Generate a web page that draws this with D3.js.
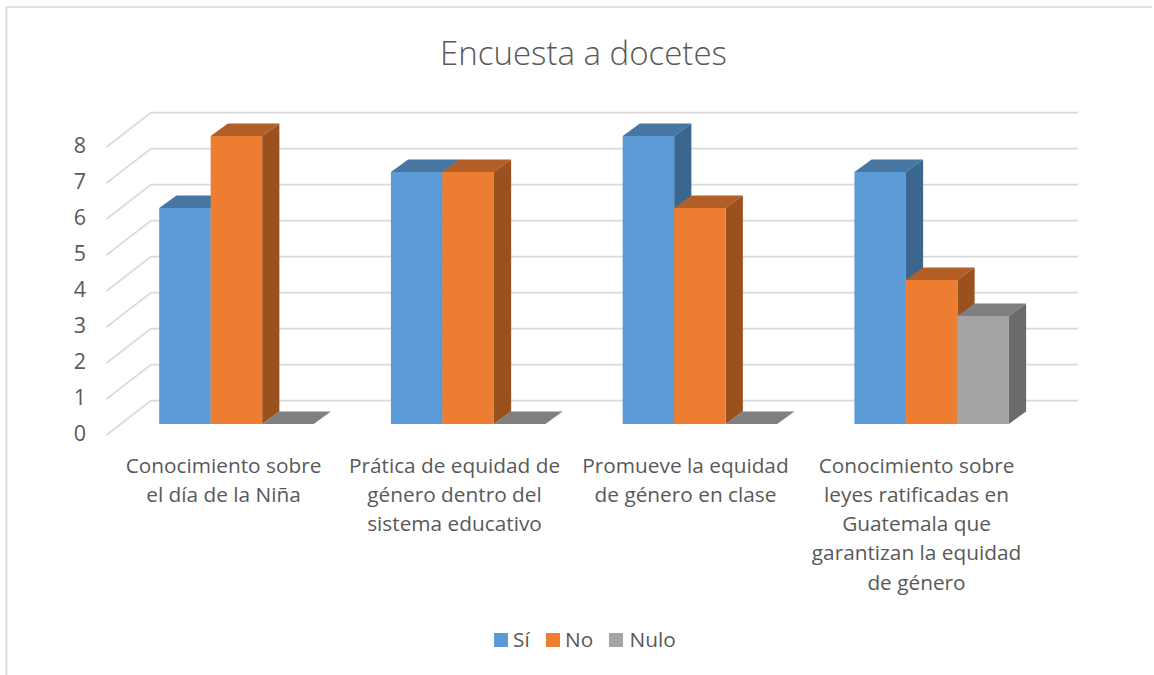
<!DOCTYPE html>
<html><head><meta charset="utf-8">
<script src="https://cdn.jsdelivr.net/npm/d3@7/dist/d3.min.js"></script>
<style>html,body{margin:0;padding:0;background:#fff}svg{display:block}text{font-family:"Open Sans",sans-serif;fill:#595959}</style>
</head><body><svg id="c" width="1154" height="675"></svg>
<script>
const titleText = "Encuesta a docetes";
const categories = [
  ["Conocimiento sobre","el día de la Niña"],
  ["Prática de equidad de","género dentro del","sistema educativo"],
  ["Promueve la equidad","de género en clase"],
  ["Conocimiento sobre","leyes ratificadas en","Guatemala que","garantizan la equidad","de género"]
];
const seriesNames = ["Sí","No","Nulo"];
const si = [6,7,8,7];
const no = [8,7,6,4];
const nulo = [0,0,0,3];
const seriesValues = [si,no,nulo];
const tickValues = [0,1,2,3,4,5,6,7,8];
const faceColors = ["#5b9bd5","#ed7d31","#a5a5a5"];
const topColors = ["#4677a3","#b25e24","#7f7f7f"];
const sideColors = ["#3b668e","#9a511d","#6b6b6b"];

const svg = d3.select("#c");
// frame
svg.append("path").attr("d","M6.5,675V7H1152").attr("fill","none").attr("stroke","#d9d9d9").attr("stroke-width",1.7);

const y = d3.scaleLinear().domain([0,8]).range([424,136]);
const x0 = d3.scaleBand().domain(d3.range(categories.length)).range([107,1034]);
const xLabel = d3.scaleBand().domain(d3.range(categories.length)).range([108,1032]);
const barW = 51.5, dx = 17.2, dy = 12.6;
const gridFrontX = 106.5, gridBackX = 151, gridEndX = 1078, gridFrontDrop = 11, gridBackRise = 23.3;

// gridlines
const grid = svg.append("g").attr("fill","none").attr("stroke","#dadada").attr("stroke-width",1.7);
tickValues.forEach(v=>{
  const yy=y(v);
  grid.append("path").attr("d",`M${gridFrontX},${yy+gridFrontDrop}L${gridBackX},${yy-gridBackRise}H${gridEndX}`);
});
// y axis labels
svg.append("g").selectAll("text").data(tickValues).join("text")
  .attr("x",80).attr("y",d=>y(d)+17.3).attr("text-anchor","middle").attr("font-size",21.5).text(d=>d);

// bars
categories.forEach((c,i)=>{
  const g=svg.append("g");
  seriesValues.forEach((vals,s)=>{
    const v=vals[i], x=x0(i)+x0.bandwidth()/2-63.7+s*barW, t=y(v), b=y(0);
    g.append("path").attr("fill",topColors[s]).attr("d",`M${x},${t}L${x+dx},${t-dy}H${x+barW+dx}L${x+barW},${t}Z`);
    if(v>0){
      g.append("path").attr("fill",sideColors[s]).attr("d",`M${x+barW},${t}L${x+barW+dx},${t-dy}V${b-dy}L${x+barW},${b}Z`);
      g.append("rect").attr("x",x).attr("y",t).attr("width",barW).attr("height",b-t).attr("fill",faceColors[s]);
    }
  });
  // category labels
  const cx=xLabel(i)+xLabel.bandwidth()/2;
  const tx=svg.append("text").attr("text-anchor","middle").attr("font-size",20.8);
  c.forEach((ln,k)=>tx.append("tspan").attr("x",cx).attr("y",472.5+k*29.3).text(ln));
});

// title
svg.append("text").attr("x",583.5).attr("y",65).attr("text-anchor","middle").attr("font-size",33).attr("font-weight",300).text(titleText);

// legend
const legX=[494,546,609], legT=[513,565,629.5];
seriesNames.forEach((n,i)=>{
  svg.append("rect").attr("x",legX[i]).attr("y",633).attr("width",14).attr("height",14).attr("fill",faceColors[i]);
  svg.append("text").attr("x",legT[i]).attr("y",647).attr("font-size",20.8).text(n);
});
</script></body></html>
